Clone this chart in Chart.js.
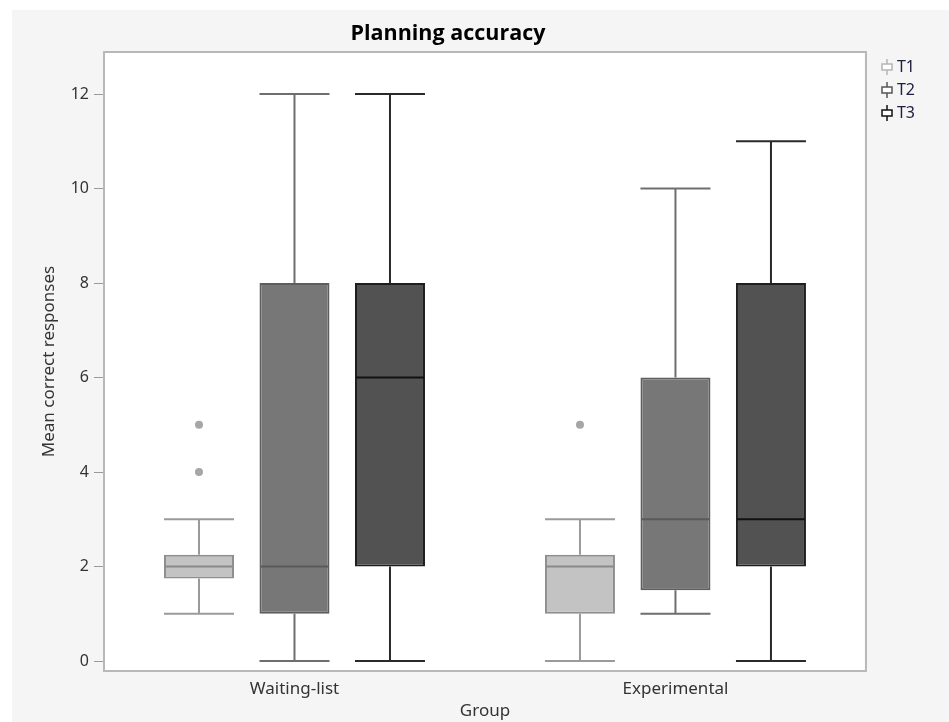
<!DOCTYPE html>
<html>
<head>
<meta charset="utf-8">
<script src="https://cdn.jsdelivr.net/npm/chart.js@4/dist/chart.umd.min.js"></script>
<style>
  body { margin: 0; background: #ffffff; }
  #wrap { position: absolute; left: 12px; top: 10px; width: 937px; height: 712px; background: #f5f5f5; }
</style>
</head>
<body>
<div id="wrap"><canvas id="canvas" width="937" height="712"></canvas></div>
<script>
const groups = ['Waiting-list', 'Experimental'];
const seriesNames = ['T1', 'T2', 'T3'];
const yTicks = [0, 2, 4, 6, 8, 10, 12];

// box statistics per series, one value per group
const t1Min = [1, 0];
const t1Q1 = [1.75, 1];
const t1Median = [2, 2];
const t1Q3 = [2.25, 2.25];
const t1Max = [3, 3];
const t1Outliers = [[4, 5], [5]];

const t2Min = [0, 1];
const t2Q1 = [1, 1.5];
const t2Median = [2, 3];
const t2Q3 = [8, 6];
const t2Max = [12, 10];
const t2Outliers = [[], []];

const t3Min = [0, 0];
const t3Q1 = [2, 2];
const t3Median = [6, 3];
const t3Q3 = [8, 8];
const t3Max = [12, 11];
const t3Outliers = [[], []];

const stats = [
  { min: t1Min, q1: t1Q1, med: t1Median, q3: t1Q3, max: t1Max, out: t1Outliers },
  { min: t2Min, q1: t2Q1, med: t2Median, q3: t2Q3, max: t2Max, out: t2Outliers },
  { min: t3Min, q1: t3Q1, med: t3Median, q3: t3Q3, max: t3Max, out: t3Outliers }
];

const fills = ['#c3c3c3', '#777777', '#525252'];
const borders = ['#8e8e8e', '#5e5e5e', '#1e1e1e'];
const whiskerColors = ['#9a9a9a', '#6e6e6e', '#2a2a2a'];
const medianColors = ['#8a8a8a', '#5a5a5a', '#111111'];
const iconColors = ['#b5b5b5', '#555555', '#111111'];
const font = '"Noto Sans", sans-serif';

// legend icon: small box with stems, drawn on the right part of a wider transparent canvas
function makeIcon(color) {
  const c = document.createElement('canvas');
  c.width = 30; c.height = 18;
  const g = c.getContext('2d');
  g.strokeStyle = color;
  g.lineWidth = 1.5;
  g.beginPath();
  g.moveTo(21, 1); g.lineTo(21, 6);
  g.moveTo(21, 12); g.lineTo(21, 17);
  g.stroke();
  g.fillStyle = '#ffffff';
  g.fillRect(16, 6, 10, 6);
  g.strokeRect(16, 6, 10, 6);
  return c;
}
const icons = iconColors.map(makeIcon);

const datasets = seriesNames.map((name, i) => ({
  label: name,
  data: stats[i].q1.map((v, j) => [v, stats[i].q3[j]]),
  backgroundColor: fills[i],
  borderColor: borders[i],
  borderWidth: 2,
  borderSkipped: false,
  categoryPercentage: 0.752,
  barPercentage: 0.733
}));

const boxPlugin = {
  id: 'boxExtras',
  beforeDraw(chart) {
    const { ctx, chartArea: a } = chart;
    ctx.save();
    ctx.fillStyle = '#ffffff';
    ctx.fillRect(a.left, a.top, a.right - a.left, a.bottom - a.top);
    ctx.restore();
  },
  afterDatasetsDraw(chart) {
    const { ctx } = chart;
    const y = chart.scales.y;
    ctx.save();
    stats.forEach((s, i) => {
      const meta = chart.getDatasetMeta(i);
      meta.data.forEach((bar, j) => {
        const { x, width } = bar.getProps(['x', 'width'], true);
        const l = x - width / 2, r = x + width / 2;
        ctx.strokeStyle = whiskerColors[i];
        ctx.lineWidth = 2;
        ctx.beginPath();
        ctx.moveTo(x, y.getPixelForValue(s.q3[j]));
        ctx.lineTo(x, y.getPixelForValue(s.max[j]));
        ctx.moveTo(x, y.getPixelForValue(s.q1[j]));
        ctx.lineTo(x, y.getPixelForValue(s.min[j]));
        ctx.moveTo(l, y.getPixelForValue(s.max[j]));
        ctx.lineTo(r, y.getPixelForValue(s.max[j]));
        ctx.moveTo(l, y.getPixelForValue(s.min[j]));
        ctx.lineTo(r, y.getPixelForValue(s.min[j]));
        ctx.stroke();
        ctx.strokeStyle = medianColors[i];
        ctx.beginPath();
        ctx.moveTo(l + 1, y.getPixelForValue(s.med[j]));
        ctx.lineTo(r - 1, y.getPixelForValue(s.med[j]));
        ctx.stroke();
        ctx.fillStyle = '#a6a6a6';
        s.out[j].forEach(v => {
          ctx.beginPath();
          ctx.arc(x, y.getPixelForValue(v), 4, 0, Math.PI * 2);
          ctx.fill();
        });
      });
    });
    // plot frame
    const a = chart.chartArea;
    ctx.strokeStyle = '#b8b8b8';
    ctx.lineWidth = 2;
    ctx.strokeRect(a.left, a.top, a.right - a.left, a.bottom - a.top);
    // title
    ctx.fillStyle = '#000000';
    ctx.font = 'bold 21.5px "Open Sans", "Noto Sans", sans-serif';
    ctx.textAlign = 'center';
    ctx.textBaseline = 'alphabetic';
    ctx.fillText('Planning accuracy', 436, 30, 196);
    ctx.restore();
  }
};

const config = {
  type: 'bar',
  data: { labels: groups, datasets: datasets },
  options: {
    responsive: false,
    animation: false,
    layout: { padding: { top: 42, right: 24, left: 0, bottom: 0 } },
    plugins: {
      tooltip: { enabled: false },
      legend: {
        position: 'right',
        align: 'start',
        labels: {
          usePointStyle: true,
          boxWidth: 18,
          boxHeight: 16,
          padding: 7,
          color: '#202040',
          font: { family: font, size: 16 },
          generateLabels: () => seriesNames.map((n, i) => ({
            text: n,
            pointStyle: icons[i],
            fillStyle: fills[i],
            strokeStyle: borders[i],
            lineWidth: 0,
            hidden: false,
            datasetIndex: i,
            fontColor: '#202040'
          }))
        }
      }
    },
    scales: {
      x: {
        grid: { display: false, drawTicks: false, tickLength: 0 },
        border: { display: false },
        ticks: { color: '#333333', padding: 8, font: { family: font, size: 17 } },
        title: { display: true, text: 'Group', color: '#333333', padding: { top: 0, bottom: 1 }, font: { family: font, size: 17 } },
        afterFit: s => { s.height = 51; }
      },
      y: {
        min: -0.21,
        max: 12.89,
        grid: { drawOnChartArea: false, drawTicks: true, tickLength: 10, color: '#9a9a9a' },
        border: { display: false },
        afterBuildTicks: s => { s.ticks = yTicks.map(v => ({ value: v })); },
        ticks: { color: '#333333', padding: 5, font: { family: font, size: 16 } },
        title: { display: true, text: 'Mean correct responses', color: '#333333', padding: { top: 27, bottom: 0 }, font: { family: font, size: 17 } },
        afterFit: s => { s.width = 92; }
      }
    }
  },
  plugins: [boxPlugin]
};

const canvas = document.getElementById('canvas');
const chart = new Chart(canvas, config);
</script>
</body>
</html>
